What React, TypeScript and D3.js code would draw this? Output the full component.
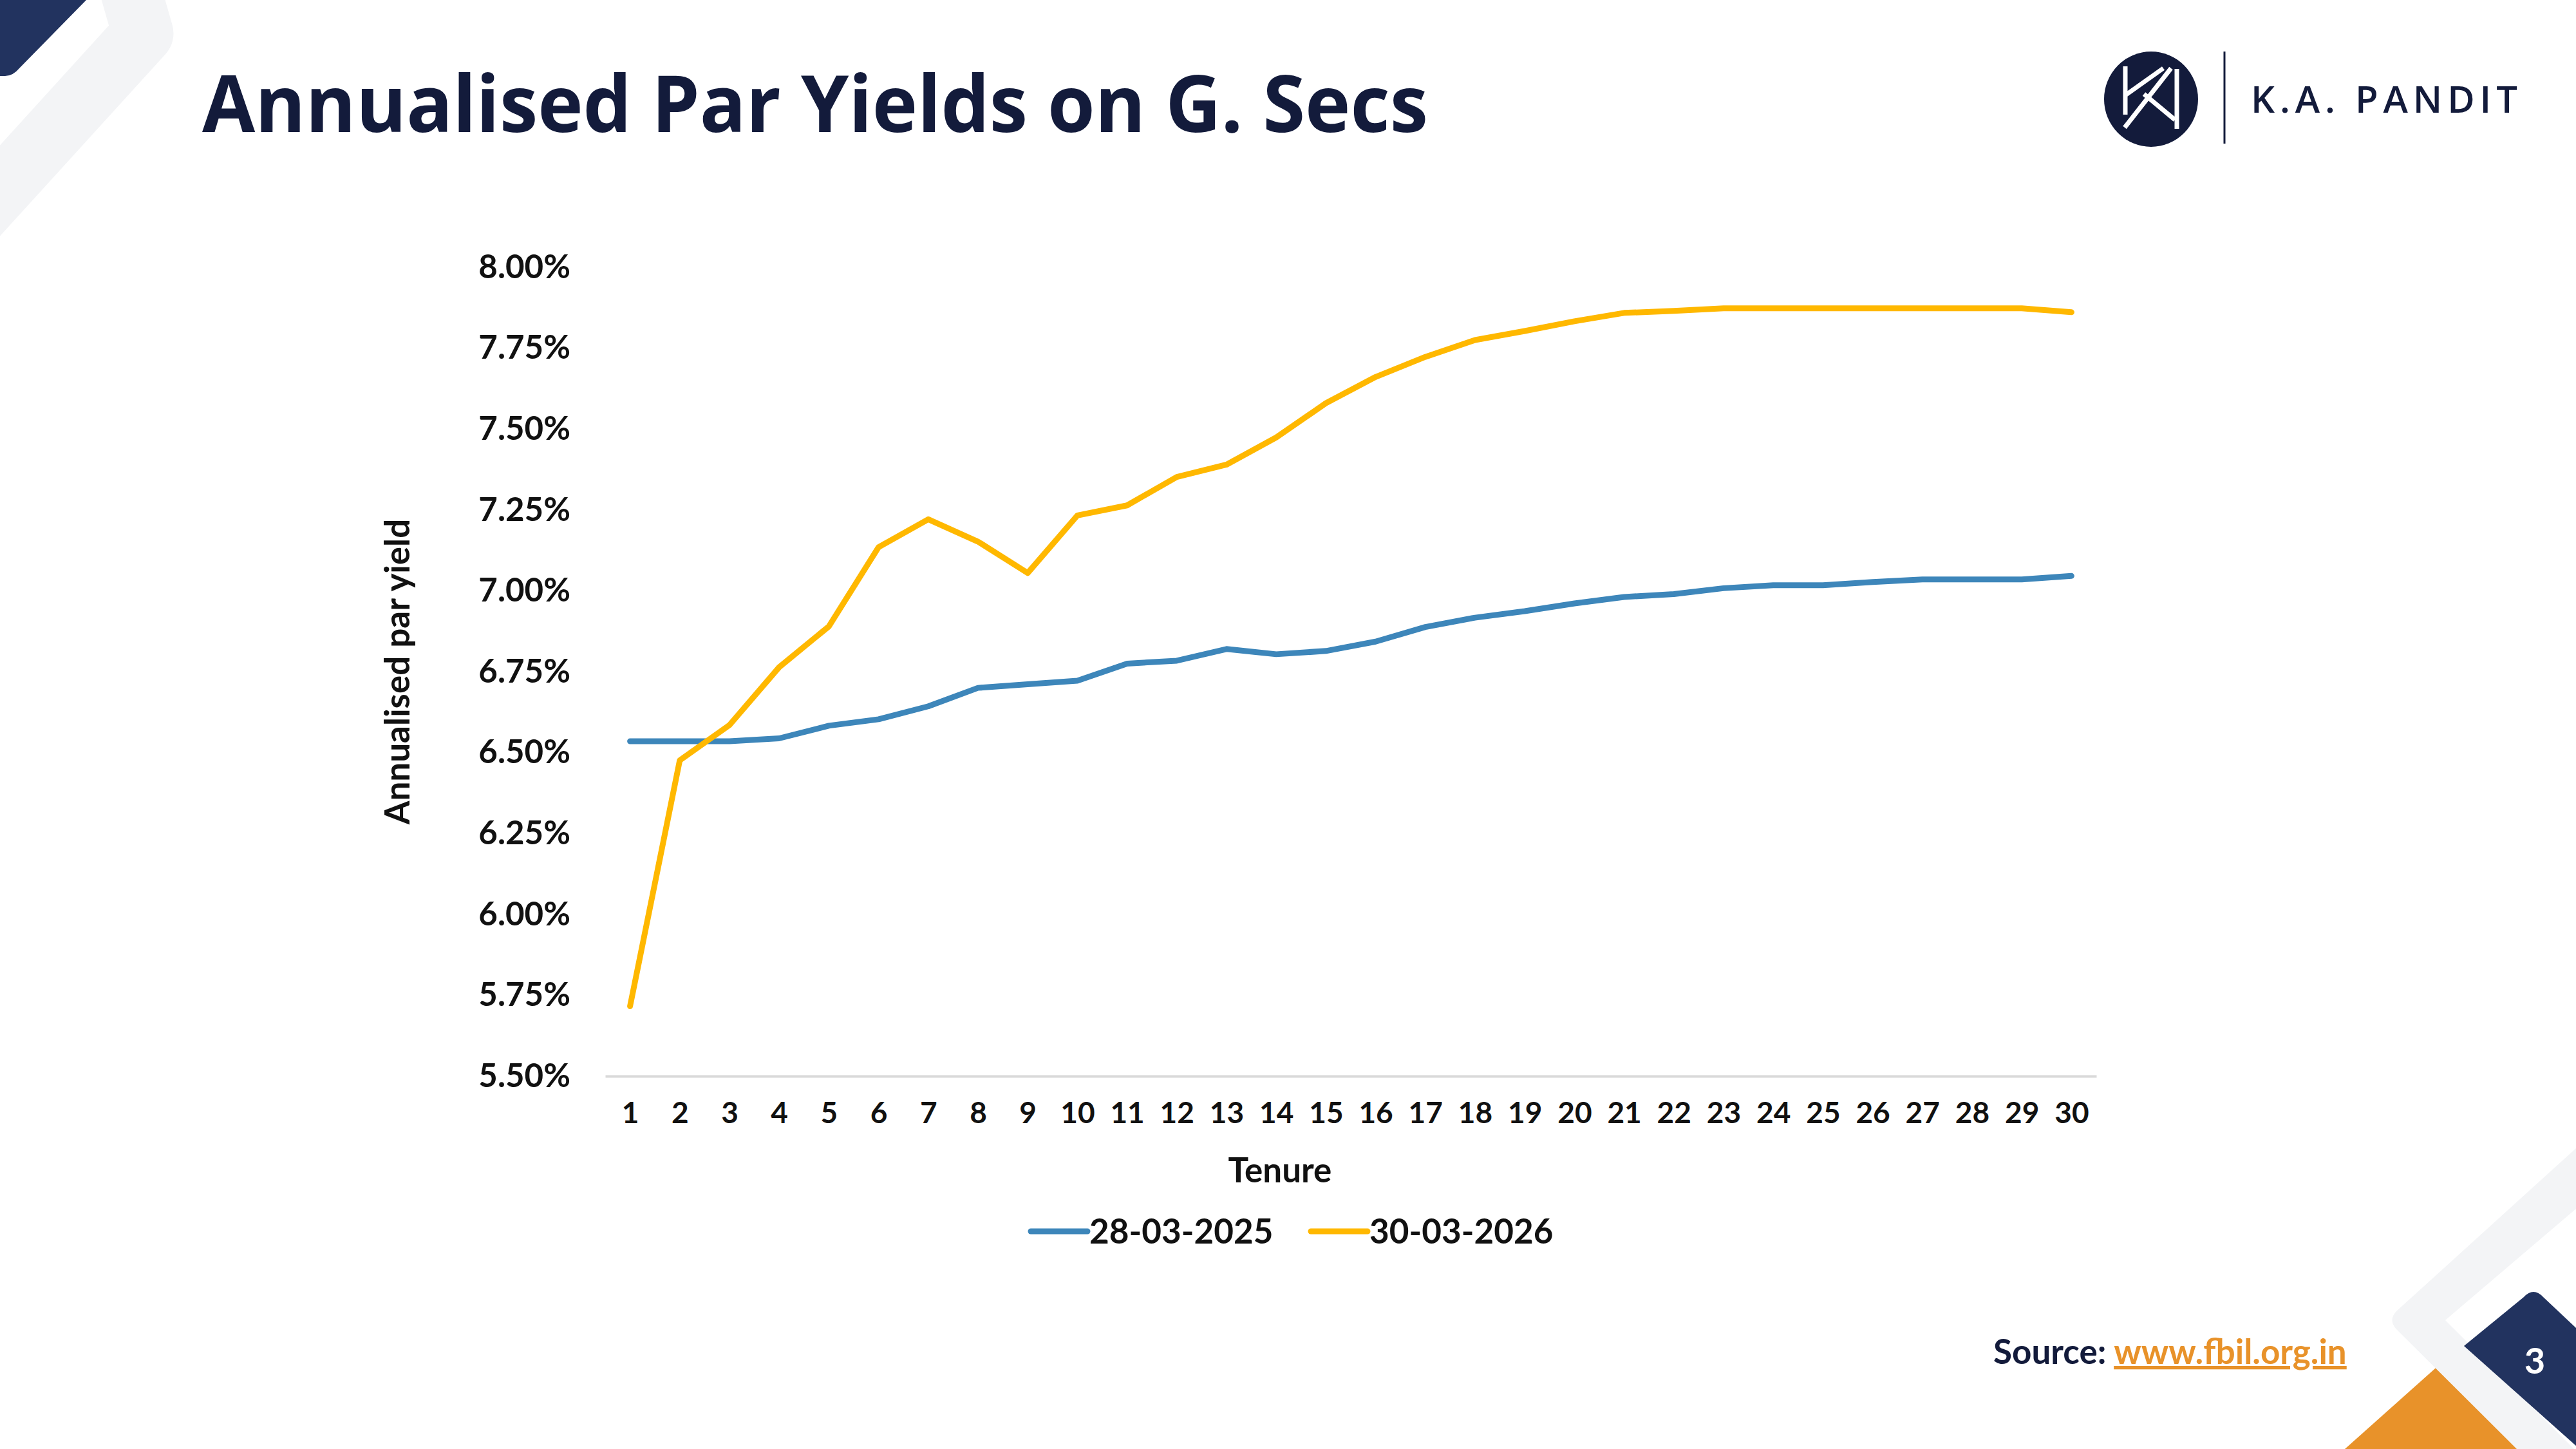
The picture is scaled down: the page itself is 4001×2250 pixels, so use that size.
import * as d3 from 'd3';
import React, {useEffect, useRef} from 'react';

const tenures: string[] = ['1', '2', '3', '4', '5', '6', '7', '8', '9', '10', '11', '12', '13', '14', '15',
  '16', '17', '18', '19', '20', '21', '22', '23', '24', '25', '26', '27', '28', '29', '30'];

const yields2025: number[] = [6.535, 6.535, 6.535, 6.544, 6.583, 6.603, 6.643, 6.700, 6.711, 6.722,
  6.775, 6.784, 6.820, 6.804, 6.814, 6.843, 6.888, 6.917, 6.937, 6.961,
  6.981, 6.990, 7.008, 7.017, 7.017, 7.027, 7.035, 7.035, 7.035, 7.046];

const yields2026: number[] = [5.716, 6.476, 6.585, 6.764, 6.890, 7.135, 7.221, 7.152, 7.055, 7.233,
  7.264, 7.352, 7.390, 7.474, 7.580, 7.661, 7.723, 7.775, 7.803, 7.833,
  7.859, 7.865, 7.873, 7.873, 7.873, 7.873, 7.873, 7.873, 7.873, 7.861];

const seriesNames: string[] = ['28-03-2025', '30-03-2026'];
const yTicks: number[] = [5.5, 5.75, 6.0, 6.25, 6.5, 6.75, 7.0, 7.25, 7.5, 7.75, 8.0];

const W = 4001;
const H = 2250;
const NAVY = '#131b3b';
const NAVY2 = '#22335f';
const GREY = '#f3f4f6';
const ORANGE = '#e8922a';
const colors = ['#3d86ba', '#ffb800'];
const chartFont = 'Lato, "Open Sans", sans-serif';

const App: React.FC = () => {
  const svgRef = useRef<SVGSVGElement>(null);

  useEffect(() => {
    document.body.style.margin = '0';
    const svg = d3.select(svgRef.current);
    svg.selectAll('*').remove();

    svg.append('rect').attr('width', W).attr('height', H).attr('fill', '#fff');

    // corner decoration, top left
    svg.append('path')
      .attr('d', 'M190,-60 L222,52 L-40,340')
      .attr('fill', 'none')
      .attr('stroke', GREY)
      .attr('stroke-width', 95)
      .attr('stroke-linejoin', 'round');
    svg.append('path')
      .attr('d', 'M0,0 L134,0 L30,106 Q20,118 8,118 L0,118 Z')
      .attr('fill', NAVY2);

    // corner decoration, bottom right
    svg.append('path')
      .attr('d', 'M3642,2250 L3790,2118 L3945,2250 Z')
      .attr('fill', ORANGE);
    svg.append('path')
      .attr('d', 'M4001,1783 L3722,2036 Q3709,2050 3722,2064 L3909,2250 L3998,2250 L3798,2050 L4001,1877 Z')
      .attr('fill', GREY);
    svg.append('path')
      .attr('d', 'M3920,2014 Q3935,1998 3950,2014 L4001,2062 L4001,2245 L3827,2090 Z')
      .attr('fill', NAVY2);
    svg.append('text')
      .attr('x', 3937).attr('y', 2133)
      .attr('text-anchor', 'middle')
      .style('font-family', chartFont).style('font-weight', 700).style('font-size', '56px')
      .attr('fill', '#fff')
      .text('3');

    // title
    svg.append('text')
      .attr('x', 314).attr('y', 205)
      .attr('textLength', 1904).attr('lengthAdjust', 'spacingAndGlyphs')
      .style('font-family', '"Open Sans", sans-serif').style('font-weight', 700).style('font-size', '122px')
      .attr('fill', NAVY)
      .text('Annualised Par Yields on G. Secs');

    // logo
    const logo = svg.append('g');
    logo.append('ellipse').attr('cx', 3341).attr('cy', 154).attr('rx', 73).attr('ry', 74).attr('fill', NAVY);
    logo.append('path')
      .attr('d', 'M3301,103 L3301,178 M3301,148 L3360,106 M3300,198 L3372,106 M3330,146 L3378,186 M3381,107 L3381,200')
      .attr('stroke', '#fff').attr('stroke-width', 7).attr('fill', 'none');
    logo.append('line').attr('x1', 3455).attr('x2', 3455).attr('y1', 80).attr('y2', 223)
      .attr('stroke', NAVY).attr('stroke-width', 3);
    logo.append('text')
      .attr('x', 3496).attr('y', 175)
      .attr('textLength', 414).attr('lengthAdjust', 'spacing')
      .style('font-family', '"Open Sans", sans-serif').style('font-weight', 600).style('font-size', '58px')
      .attr('fill', NAVY)
      .text('K.A. PANDIT');

    // chart
    const x = d3.scalePoint<string>().domain(tenures).range([940, 3256]).padding(0.5);
    const y = d3.scaleLinear().domain([5.5, 8.0]).range([1671, 415]);

    const yAxis = svg.append('g')
      .attr('transform', 'translate(940,0)')
      .call(d3.axisLeft(y).tickValues(yTicks).tickFormat(d => (+d).toFixed(2) + '%').tickSize(0).tickPadding(54));
    yAxis.select('.domain').remove();
    yAxis.selectAll('text')
      .style('font-family', chartFont).style('font-weight', 700).style('font-size', '51px')
      .attr('fill', '#111');

    const xAxis = svg.append('g')
      .attr('transform', 'translate(0,1671)')
      .call(d3.axisBottom(x).tickSize(0).tickPadding(40));
    xAxis.select('.domain').attr('stroke', '#d9d9d9').attr('stroke-width', 4);
    xAxis.selectAll('text')
      .style('font-family', chartFont).style('font-weight', 700).style('font-size', '46px')
      .attr('fill', '#111');

    svg.append('text')
      .attr('transform', 'translate(636,1043) rotate(-90)')
      .attr('text-anchor', 'middle')
      .style('font-family', chartFont).style('font-weight', 700).style('font-size', '53px')
      .attr('fill', '#111')
      .text('Annualised par yield');

    svg.append('text')
      .attr('x', 1988).attr('y', 1836)
      .attr('text-anchor', 'middle')
      .style('font-family', chartFont).style('font-weight', 700).style('font-size', '53px')
      .attr('fill', '#111')
      .text('Tenure');

    const line = d3.line<number>()
      .x((_, i) => x(tenures[i]) as number)
      .y(d => y(d));

    [yields2025, yields2026].forEach((values, i) => {
      svg.append('path')
        .datum(values)
        .attr('d', line)
        .attr('fill', 'none')
        .attr('stroke', colors[i])
        .attr('stroke-width', 9)
        .attr('stroke-linejoin', 'round')
        .attr('stroke-linecap', 'round');
    });

    // legend
    const legendX = [1601, 2036];
    seriesNames.forEach((name, i) => {
      const g = svg.append('g').attr('transform', `translate(${legendX[i]},1912)`);
      g.append('line').attr('x1', 0).attr('x2', 88).attr('y1', 0).attr('y2', 0)
        .attr('stroke', colors[i]).attr('stroke-width', 9).attr('stroke-linecap', 'round');
      g.append('text')
        .attr('x', 91).attr('y', 0).attr('dy', '0.35em')
        .style('font-family', chartFont).style('font-weight', 700).style('font-size', '53px')
        .attr('fill', '#111')
        .text(name);
    });

    // source
    const src = svg.append('text')
      .attr('x', 3096).attr('y', 2118)
      .style('font-family', chartFont).style('font-weight', 700).style('font-size', '53px');
    src.append('tspan').attr('fill', NAVY).text('Source: ');
    src.append('tspan').attr('fill', ORANGE).style('text-decoration', 'underline').text('www.fbil.org.in');
  }, []);

  return (
    <div className='App'>
      <svg ref={svgRef} width={W} height={H} style={{display: 'block'}}/>
    </div>
  );
};

export default App;
